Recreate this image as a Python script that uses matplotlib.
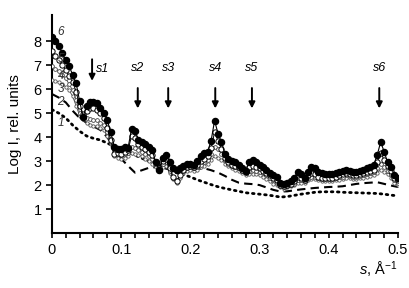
import numpy as np
import matplotlib
matplotlib.use("Agg")
import matplotlib.pyplot as plt

plt.rcParams["font.family"] = ["Liberation Sans", "DejaVu Sans"]
plt.rcParams["mathtext.fontset"] = "custom"
plt.rcParams["mathtext.rm"] = "Liberation Sans"
plt.rcParams["mathtext.it"] = "Liberation Sans:italic"

# ── data ─────────────────────────────────────────────────────────────────────
s_fine = np.arange(101) * 0.005          # marker curves 3-6
s_coarse = np.arange(51) * 0.01          # line curves 1-2

curve1 = [5.15, 5.0, 4.8, 4.5, 4.25, 4.05, 3.95, 3.88, 3.75, 3.62,
          3.5, 3.38, 3.25, 3.12, 3.0, 2.88, 2.76, 2.64, 2.52, 2.44,
          2.34, 2.22, 2.12, 2.02, 1.93, 1.86, 1.8, 1.74, 1.68, 1.65,
          1.62, 1.59, 1.55, 1.5, 1.52, 1.57, 1.62, 1.66, 1.7, 1.72,
          1.72, 1.72, 1.7, 1.69, 1.68, 1.67, 1.66, 1.65, 1.62, 1.58,
          1.55]

curve2 = [5.8, 5.65, 5.45, 5.1, 4.8, 4.6, 4.45, 4.3, 4.0, 3.55,
          3.1, 2.8, 2.52, 2.62, 2.72, 2.75, 2.72, 2.65, 2.58, 2.55,
          2.6, 2.68, 2.7, 2.62, 2.52, 2.38, 2.22, 2.1, 2.06, 2.04,
          2.0, 1.9, 1.8, 1.73, 1.74, 1.78, 1.82, 1.85, 1.88, 1.9,
          1.92, 1.93, 1.95, 2.0, 2.05, 2.08, 2.1, 2.12, 2.05, 1.98,
          1.92]

curve3 = [6.4, 6.35, 6.3, 6.2, 6.1, 5.95, 5.7, 5.3, 4.9, 4.75,
          4.6, 4.5, 4.48, 4.45, 4.4, 4.3, 4.05, 3.7, 3.2, 3.15,
          3.1, 3.15, 3.2, 3.35, 3.3, 3.25, 3.2, 3.1, 3.0, 2.9,
          2.75, 2.6, 2.75, 2.8, 2.5, 2.25, 2.1, 2.3, 2.5, 2.6,
          2.65, 2.6, 2.65, 2.75, 2.8, 2.9, 3.05, 3.2, 3.15, 3.05,
          2.9, 2.8, 2.7, 2.65, 2.6, 2.5, 2.4, 2.45, 2.48, 2.45,
          2.4, 2.35, 2.25, 2.15, 2.05, 2.0, 1.9, 1.85, 1.9, 1.95,
          2.0, 2.1, 2.1, 2.1, 2.2, 2.25, 2.25, 2.2, 2.15, 2.15,
          2.15, 2.15, 2.2, 2.22, 2.25, 2.3, 2.28, 2.25, 2.25, 2.28,
          2.3, 2.35, 2.38, 2.4, 2.5, 2.65, 2.55, 2.45, 2.3, 2.1,
          2.0]

curve4 = [6.95, 6.85, 6.75, 6.6, 6.45, 6.2, 5.95, 5.55, 5.0, 4.85,
          4.8, 4.75, 4.72, 4.7, 4.6, 4.5, 4.2, 3.8, 3.4, 3.3,
          3.25, 3.3, 3.35, 3.6, 3.55, 3.45, 3.4, 3.3, 3.2, 3.1,
          2.9, 2.7, 2.9, 2.95, 2.6, 2.3, 2.2, 2.4, 2.6, 2.7,
          2.75, 2.7, 2.75, 2.85, 2.95, 3.05, 3.3, 3.6, 3.5, 3.3,
          3.05, 2.9, 2.8, 2.75, 2.7, 2.6, 2.5, 2.6, 2.62, 2.6,
          2.55, 2.5, 2.4, 2.3, 2.2, 2.1, 1.95, 1.9, 1.95, 2.0,
          2.05, 2.2, 2.2, 2.15, 2.3, 2.35, 2.35, 2.3, 2.25, 2.25,
          2.25, 2.25, 2.3, 2.32, 2.35, 2.4, 2.38, 2.35, 2.35, 2.38,
          2.42, 2.45, 2.5, 2.55, 2.7, 2.9, 2.75, 2.6, 2.45, 2.2,
          2.1]

curve5 = [7.6, 7.4, 7.2, 7.0, 6.8, 6.55, 6.3, 5.9, 5.3, 4.95,
          5.1, 5.2, 5.22, 5.15, 5.0, 4.8, 4.4, 3.9, 3.3, 3.35,
          3.3, 3.4, 3.45, 4.05, 3.95, 3.7, 3.6, 3.5, 3.4, 3.25,
          2.95, 2.7, 3.0, 3.1, 2.7, 2.35, 2.15, 2.4, 2.65, 2.75,
          2.8, 2.75, 2.85, 3.0, 3.1, 3.2, 3.55, 4.2, 3.85, 3.5,
          3.15, 2.95, 2.85, 2.8, 2.75, 2.65, 2.55, 2.75, 2.8, 2.75,
          2.7, 2.6, 2.5, 2.4, 2.3, 2.2, 2.0, 1.95, 2.0, 2.05,
          2.15, 2.35, 2.3, 2.2, 2.4, 2.5, 2.45, 2.35, 2.3, 2.3,
          2.3, 2.3, 2.35, 2.4, 2.45, 2.5, 2.45, 2.4, 2.4, 2.45,
          2.5, 2.55, 2.6, 2.65, 2.95, 3.35, 3.05, 2.8, 2.6, 2.3,
          2.2]

curve6 = [8.2, 8.0, 7.8, 7.5, 7.2, 6.95, 6.6, 6.25, 5.5, 4.85,
          5.3, 5.45, 5.48, 5.44, 5.2, 5.0, 4.7, 4.2, 3.6, 3.5,
          3.5, 3.6, 3.55, 4.35, 4.25, 3.9, 3.8, 3.7, 3.6, 3.45,
          2.95, 2.65, 3.15, 3.25, 2.95, 2.72, 2.65, 2.7, 2.8, 2.9,
          2.88, 2.85, 3.0, 3.2, 3.35, 3.4, 3.85, 4.69, 4.15, 3.8,
          3.3, 3.1, 3.0, 2.95, 2.85, 2.7, 2.6, 2.95, 3.05, 2.95,
          2.85, 2.75, 2.65, 2.5, 2.4, 2.35, 2.1, 2.05, 2.1, 2.15,
          2.3, 2.55, 2.45, 2.3, 2.55, 2.75, 2.7, 2.55, 2.5, 2.45,
          2.45, 2.45, 2.5, 2.55, 2.6, 2.65, 2.6, 2.55, 2.55, 2.6,
          2.65, 2.7, 2.75, 2.85, 3.25, 3.8, 3.4, 2.95, 2.75, 2.4,
          2.3]

curve_labels = ["1", "2", "3", "4", "5", "6"]
label_y = [4.6, 5.45, 6.0, 6.55, 7.25, 8.4]

peak_names = ["s1", "s2", "s3", "s4", "s5", "s6"]
peak_s = [0.058, 0.124, 0.168, 0.236, 0.289, 0.473]

# ── figure ───────────────────────────────────────────────────────────────────
fig = plt.figure(figsize=(4.09, 2.88), dpi=100)
ax = fig.add_axes([0.127, 0.191, 0.846, 0.757])

ax.plot(s_coarse, curve1, color="black", lw=2.0, linestyle=(0, (0.6, 1.6)),
        dash_capstyle="round", zorder=2)
ax.plot(s_coarse, curve2, color="black", lw=1.5, linestyle=(0, (4, 2.5)), zorder=2)
ax.plot(s_fine, curve3, color="#444444", lw=0.6, marker="o", ms=2.4,
        mfc="white", mec="#555555", mew=0.6, zorder=3)
ax.plot(s_fine, curve4, color="#444444", lw=0.6, marker="o", ms=2.7,
        mfc="white", mec="#444444", mew=0.6, zorder=4)
ax.plot(s_fine, curve5, color="black", lw=0.7, marker="o", ms=3.8,
        mfc="white", mec="black", mew=0.7, zorder=5)
ax.plot(s_fine, curve6, color="black", lw=0.8, marker="o", ms=4.4,
        mfc="black", mec="black", zorder=6)

for lab, y in zip(curve_labels, label_y):
    ax.text(0.008, y, lab, fontsize=8.5, style="italic", color="#333333",
            ha="left", va="center", zorder=7)

# peak arrows: s1 has the label beside it, the others above
for name, sx in zip(peak_names, peak_s):
    if name == "s1":
        top, tip = 7.25, 6.35
        ax.text(sx + 0.006, 6.86, name, fontsize=9, style="italic",
                ha="left", va="center")
    else:
        top, tip = 6.05, 5.2
        ax.text(sx, 6.9, name, fontsize=9, style="italic",
                ha="center", va="center")
    ax.annotate("", xy=(sx, tip), xytext=(sx, top),
                arrowprops=dict(arrowstyle="-|>", color="black", lw=1.4,
                                mutation_scale=9, shrinkA=0, shrinkB=0))

ax.set_xlim(0, 0.5)
ax.set_ylim(0, 9.1)
ax.set_xticks([0, 0.1, 0.2, 0.3, 0.4, 0.5])
ax.set_xticklabels(["0", "0.1", "0.2", "0.3", "0.4", "0.5"])
ax.set_xticks(np.arange(0, 0.5001, 0.02), minor=True)
ax.set_yticks([1, 2, 3, 4, 5, 6, 7, 8])
ax.tick_params(axis="both", which="both", direction="out", width=1.2,
               labelsize=10.5, color="black")
ax.tick_params(axis="x", which="both", length=3.5, pad=4)
ax.tick_params(axis="y", which="major", length=4)

for side in ["top", "right"]:
    ax.spines[side].set_visible(False)
for side in ["left", "bottom"]:
    ax.spines[side].set_linewidth(1.5)

ax.set_ylabel("Log I, rel. units", fontsize=11, labelpad=8)
ax.text(1.0, -0.17, r"$\it{s}$, Å$^{-1}$", transform=ax.transAxes,
        fontsize=10.5, ha="right", va="center")

fig.savefig("out.png", dpi=100)
